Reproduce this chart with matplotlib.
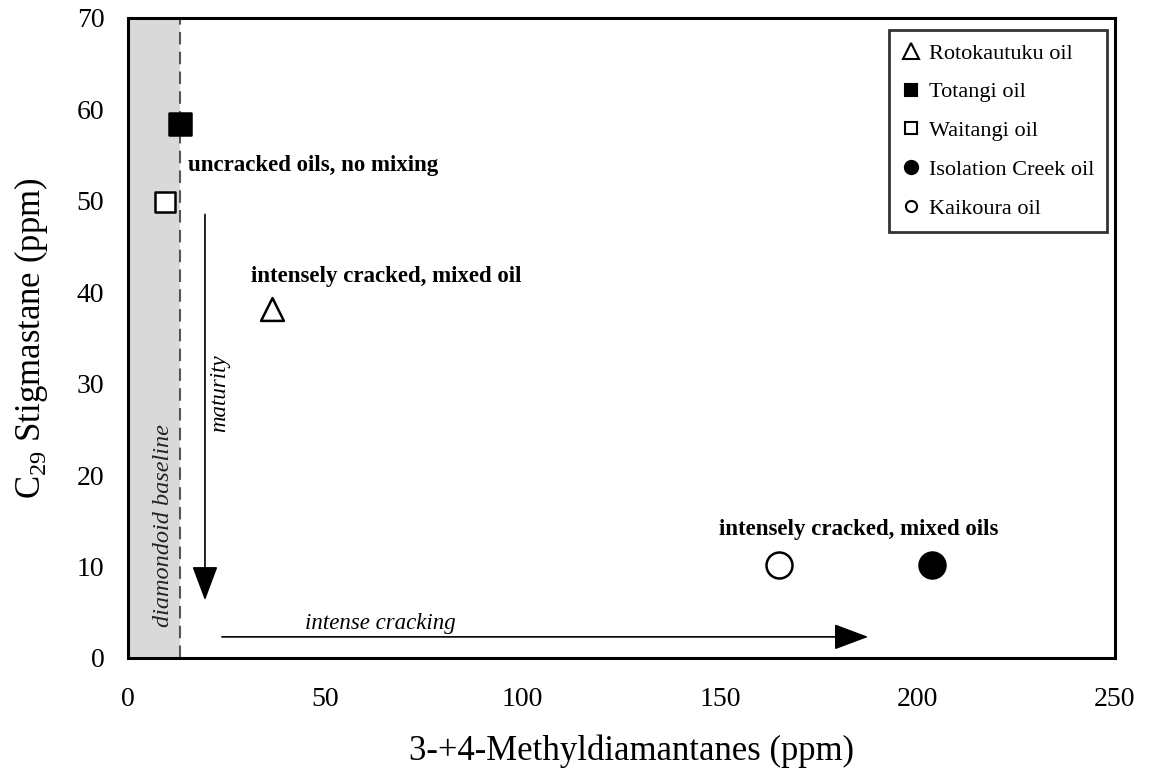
import numpy as np
import matplotlib.pyplot as plt
from matplotlib.lines import Line2D

plt.rcParams['font.family'] = ['Liberation Serif', 'DejaVu Serif']
plt.rcParams['mathtext.fontset'] = 'custom'
plt.rcParams['mathtext.rm'] = 'Liberation Serif'

# oil samples: diamondoids (x) vs stigmastane (y), ppm
oils = ['Rotokautuku oil', 'Totangi oil', 'Waitangi oil', 'Isolation Creek oil', 'Kaikoura oil']
diamantanes = [36.5, 13.2, 9.4, 203.6, 164.9]
stigmastane = [38.2, 58.4, 49.9, 10.2, 10.2]
markers = ['^', 's', 's', 'o', 'o']
faces = ['white', 'black', 'white', 'black', 'white']
sizes = [270, 230, 210, 350, 350]
legend_sizes = [11, 8.5, 8.5, 9.5, 8]

baseline = 13.2

fig, ax = plt.subplots(figsize=(11.53, 7.74), dpi=100)
fig.subplots_adjust(left=0.111, right=0.967, top=0.977, bottom=0.15)

ax.axvspan(0, baseline, color='#d9d9d9', lw=0, zorder=0)
ax.axvline(baseline, color='#555555', lw=1.5, ls=(0, (6, 3.5)), zorder=1)

for x, y, m, fc, s in zip(diamantanes, stigmastane, markers, faces, sizes):
    ax.scatter(x, y, marker=m, s=s, facecolor=fc, edgecolor='black', linewidth=1.8, zorder=3)

# arrows for maturity and cracking trends
head = dict(arrowstyle='-|>,head_length=0.4,head_width=0.15', color='black', lw=1.2,
            mutation_scale=54, shrinkA=0, shrinkB=0)
ax.annotate('', xy=(19.5, 6.3), xytext=(19.5, 48.5), arrowprops=head)
ax.annotate('', xy=(187.5, 2.3), xytext=(23.8, 2.3), arrowprops=head)

ax.text(15.2, 53.9, 'uncracked oils, no mixing', fontsize=16.5, fontweight='bold',
        ha='left', va='center')
ax.text(65.5, 41.7, 'intensely cracked, mixed oil', fontsize=16.5, fontweight='bold',
        ha='center', va='center')
ax.text(185.0, 14.0, 'intensely cracked, mixed oils', fontsize=16.5, fontweight='bold',
        ha='center', va='center')
ax.text(64.0, 3.8, 'intense cracking', fontsize=16.5, style='italic', ha='center', va='center')
ax.text(23.3, 29.0, 'maturity', fontsize=16.5, style='italic', rotation=90,
        ha='center', va='center')
ax.text(8.9, 14.5, 'diamondoid baseline', fontsize=17.5, style='italic', rotation=90,
        ha='center', va='center', color='#222222')

ax.set_xlim(0, 250)
ax.set_ylim(0, 70)
ax.set_xticks(np.arange(0, 251, 50))
ax.set_yticks(np.arange(0, 71, 10))
ax.tick_params(length=0, labelsize=20)
ax.tick_params(axis='x', pad=21)
ax.tick_params(axis='y', pad=17)
for sp in ax.spines.values():
    sp.set_linewidth(2.2)

ax.set_xlabel('3-+4-Methyldiamantanes (ppm)', fontsize=25, labelpad=16)
ax.xaxis.label.set_x(0.51)
ax.set_ylabel('C$_{29}$ Stigmastane (ppm)', fontsize=25, labelpad=19)

handles = [Line2D([], [], ls='none', marker=m, markersize=ms, markerfacecolor=fc,
                  markeredgecolor='black', markeredgewidth=1.5)
           for m, fc, ms in zip(markers, faces, legend_sizes)]
leg = ax.legend(handles, oils, loc='upper right', fontsize=16, frameon=True,
                fancybox=False, edgecolor='black', handlelength=0.8,
                handletextpad=0.4, labelspacing=0.82, borderpad=0.58,
                bbox_to_anchor=(1.0035, 0.998))
leg.get_frame().set_linewidth(2.0)

fig.savefig('out.png', dpi=100)
